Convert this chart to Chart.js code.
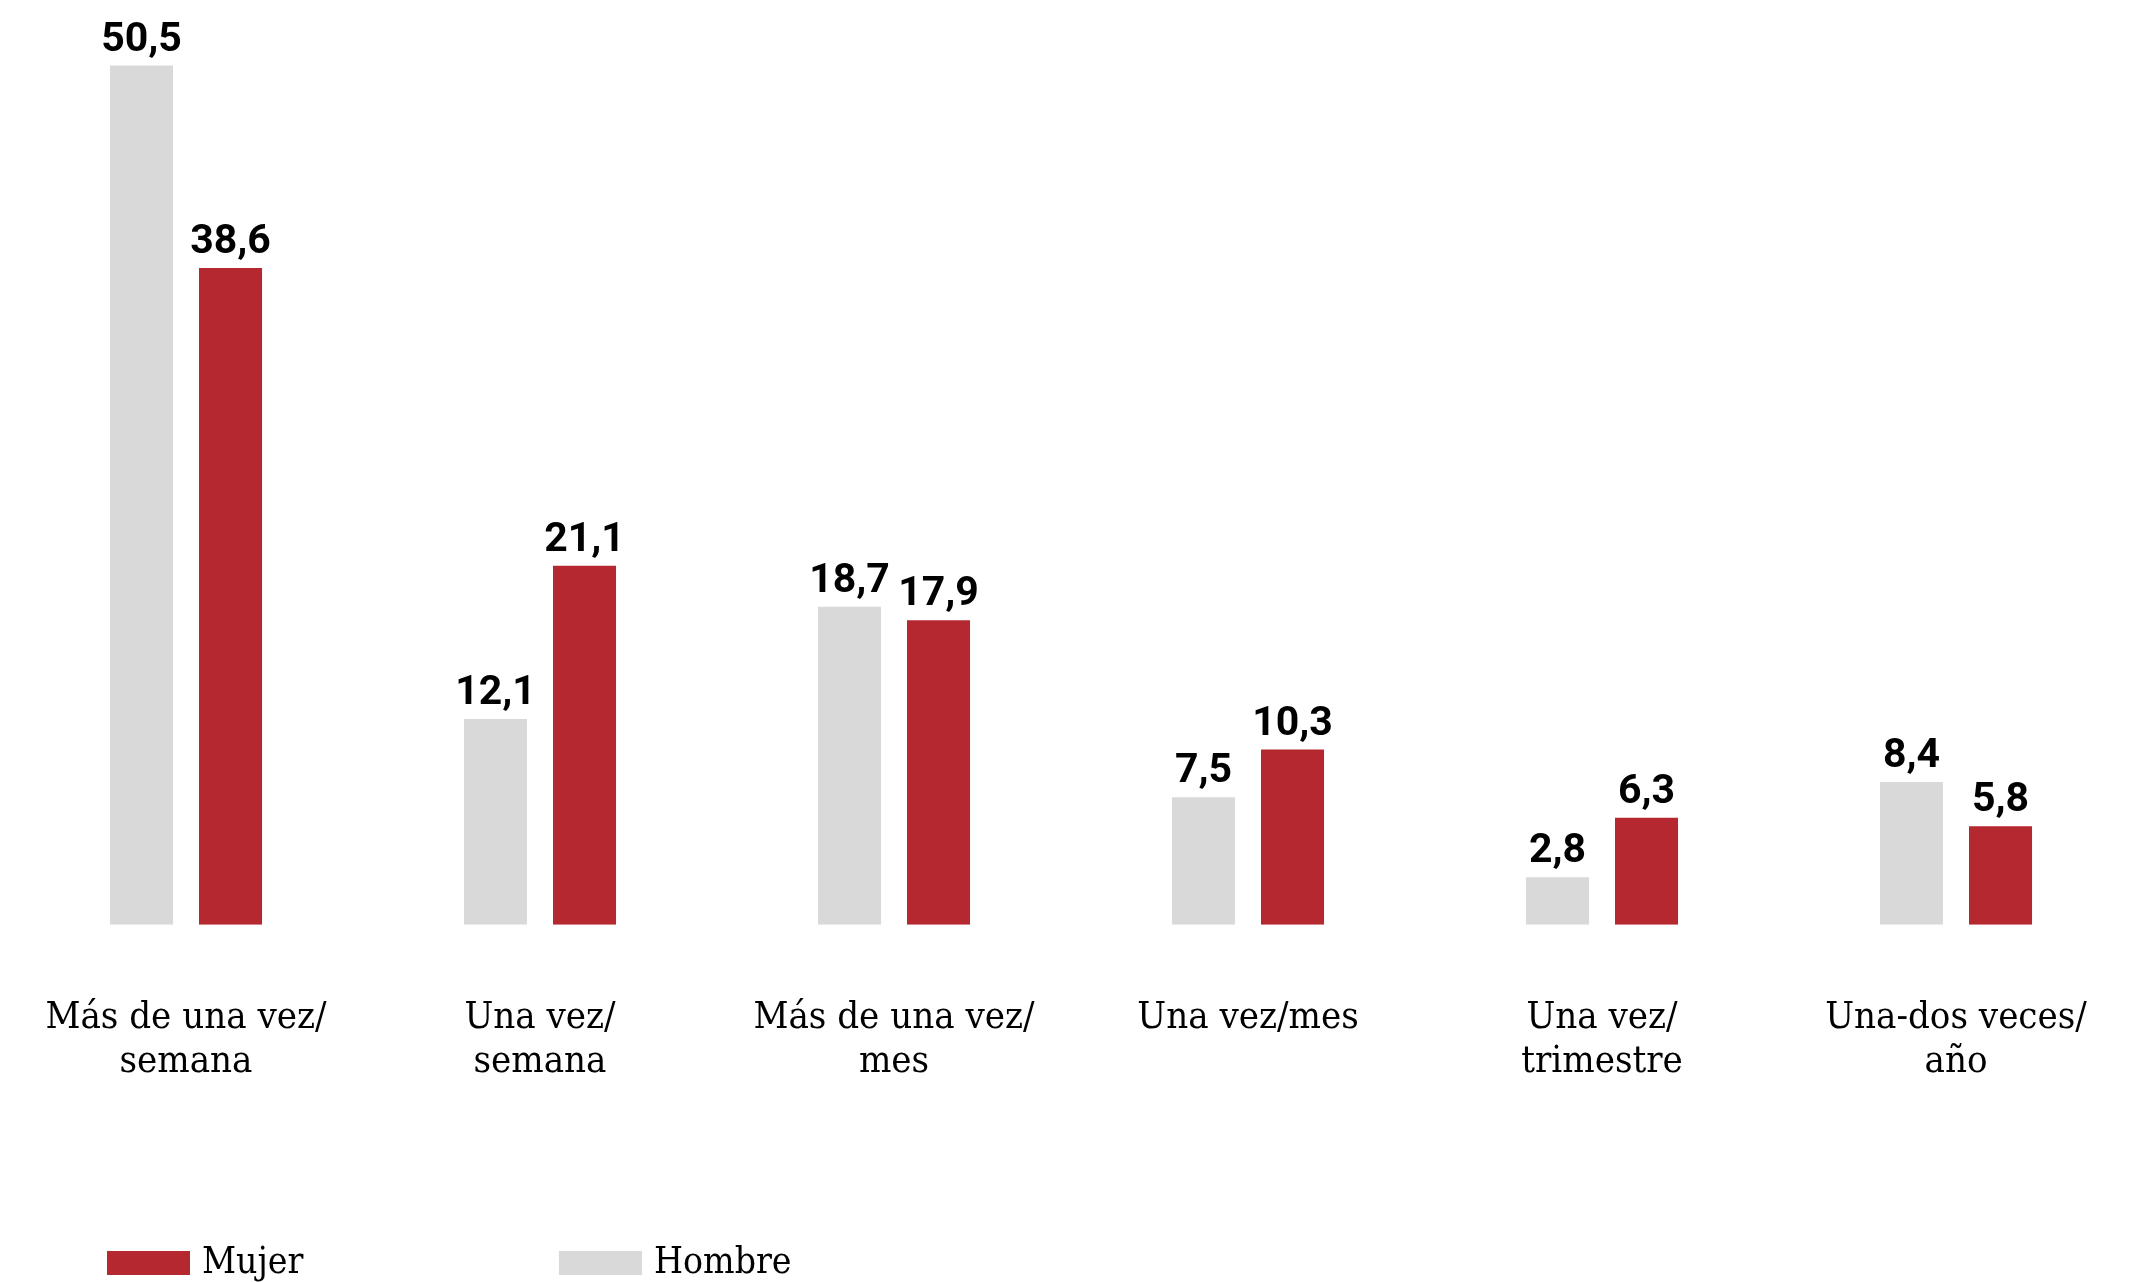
<!DOCTYPE html>
<html>
<head>
<meta charset="utf-8">
<script src="https://cdn.jsdelivr.net/npm/chart.js@4/dist/chart.umd.min.js"></script>
<style>
  html, body { margin: 0; padding: 0; background: #fff; }
  #wrap { width: 2146px; height: 1282px; position: relative; }
</style>
</head>
<body>
<div id="wrap"><canvas id="chartFrecuencia"></canvas></div>
<script>
const categorias = [
  ['Más de una vez/', 'semana'],
  ['Una vez/', 'semana'],
  ['Más de una vez/', 'mes'],
  'Una vez/mes',
  ['Una vez/', 'trimestre'],
  ['Una-dos veces/', 'año']
];
const hombre = [50.5, 12.1, 18.7, 7.5, 2.8, 8.4];
const mujer = [38.6, 21.1, 17.9, 10.3, 6.3, 5.8];

const GRIS = '#d9d9d9';
const ROJO = '#b6282f';
const SERIF = "'DejaVu Serif Condensed', 'DejaVu Serif', serif";

// numeros encima de cada barra, con coma decimal
const etiquetasValor = {
  id: 'etiquetasValor',
  afterDatasetsDraw(chart) {
    const c = chart.ctx;
    c.save();
    c.font = 'bold 41px Roboto';
    c.fillStyle = '#000';
    c.textAlign = 'center';
    c.textBaseline = 'alphabetic';
    chart.data.datasets.forEach((ds, i) => {
      chart.getDatasetMeta(i).data.forEach((bar, j) => {
        const txt = ds.data[j].toFixed(1).replace('.', ',');
        c.fillText(txt, bar.x, bar.y - 15);
      });
    });
    c.restore();
  }
};

// leyenda abajo a la izquierda: Mujer primero, luego Hombre
const leyenda = {
  id: 'leyenda',
  afterDraw(chart) {
    const c = chart.ctx;
    const items = [chart.data.datasets[1], chart.data.datasets[0]];
    const xs = [107, 559];
    c.save();
    c.font = '37px ' + SERIF;
    c.textBaseline = 'middle';
    c.textAlign = 'left';
    items.forEach((ds, k) => {
      c.fillStyle = ds.backgroundColor;
      c.fillRect(xs[k], 1251, 83, 24);
      c.fillStyle = '#000';
      c.fillText(ds.label, xs[k] + 95, 1263);
    });
    c.restore();
  }
};

const ctx = document.getElementById('chartFrecuencia');

new Chart(ctx, {
  type: 'bar',
  data: {
    labels: categorias,
    datasets: [{
      label: 'Hombre',
      data: hombre,
      backgroundColor: GRIS,
      categoryPercentage: 0.503,
      barPercentage: 0.708
    }, {
      label: 'Mujer',
      data: mujer,
      backgroundColor: ROJO,
      categoryPercentage: 0.503,
      barPercentage: 0.708
    }]
  },
  options: {
    responsive: true,
    maintainAspectRatio: false,
    animation: false,
    layout: {
      padding: { top: 6, left: 9, right: 13, bottom: 198 }
    },
    plugins: {
      legend: { display: false },
      tooltip: { enabled: false }
    },
    scales: {
      x: {
        // marcas invisibles: solo sirven para separar los rotulos de las barras
        grid: {
          drawOnChartArea: false,
          drawTicks: true,
          tickLength: 71,
          color: 'rgba(0,0,0,0)'
        },
        border: { display: false },
        ticks: {
          color: '#000',
          padding: 0,
          maxRotation: 0,
          autoSkip: false,
          font: { family: SERIF, size: 38, lineHeight: 1.16 }
        }
      },
      y: {
        display: false,
        min: 0,
        max: 54
      }
    }
  },
  plugins: [etiquetasValor, leyenda]
});
</script>
</body>
</html>
